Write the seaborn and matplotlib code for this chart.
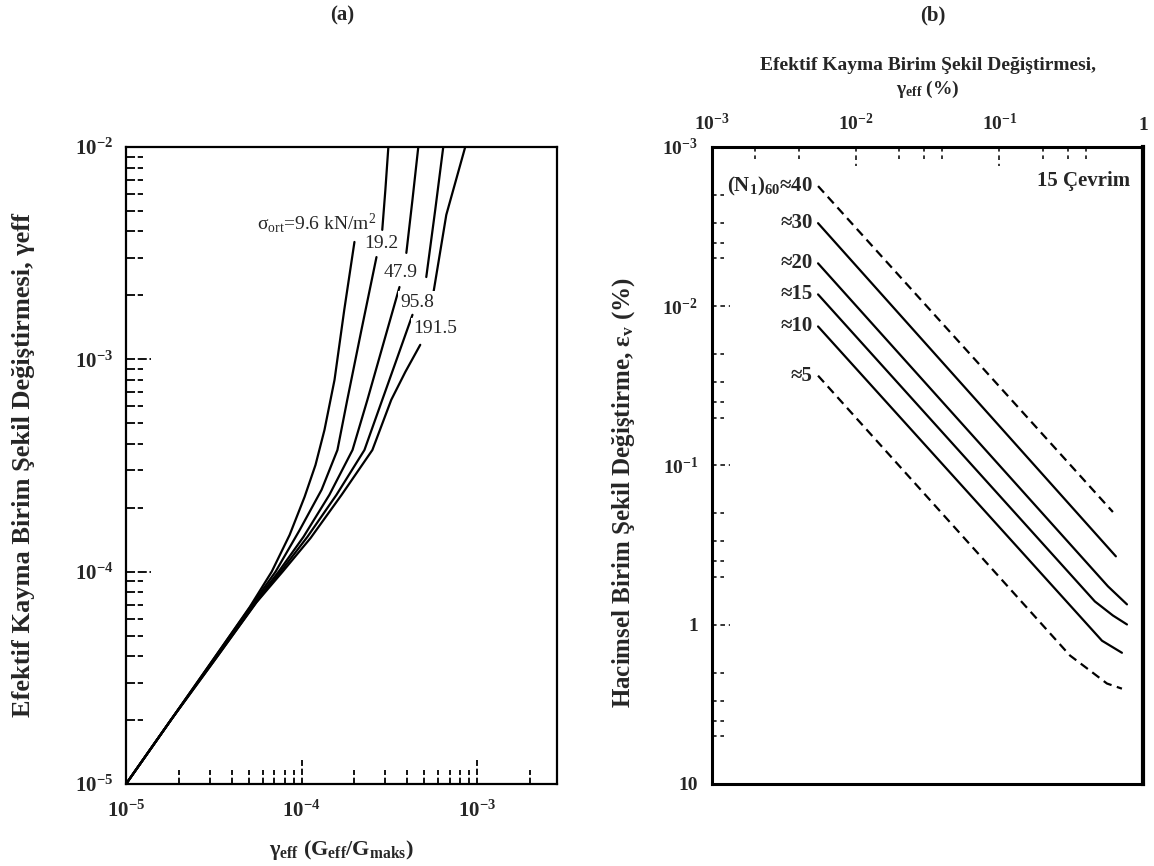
import numpy as np
import pandas as pd
import seaborn as sns
import matplotlib
import matplotlib.pyplot as plt

matplotlib.use('Agg')
sns.set_style("white")

# fuentes tipo Times (despues de set_style)
plt.rcParams['font.family'] = ['Liberation Serif', 'DejaVu Serif']
plt.rcParams['mathtext.fontset'] = 'custom'
plt.rcParams['mathtext.rm'] = 'Liberation Serif'
plt.rcParams['mathtext.it'] = 'Liberation Serif:italic'
plt.rcParams['mathtext.bf'] = 'Liberation Serif:bold'
plt.rcParams['mathtext.default'] = 'bf'

# -------------------------------Datos panel (a)
sigma_labels = ['9.6', '19.2', '47.9', '95.8', '191.5']

x_96 = [1.0e-5, 1.80e-5, 3.21e-5, 5.07e-5, 6.76e-5, 8.55e-5, 1.04e-4, 1.20e-4, 1.35e-4, 1.54e-4, 1.75e-4, 2.00e-4, 2.88e-4, 3.00e-4, 3.12e-4]
y_96 = [1.0e-5, 2.0e-5, 3.96e-5, 6.82e-5, 1.0e-4, 1.49e-4, 2.25e-4, 3.18e-4, 4.65e-4, 8.0e-4, 1.71e-3, 3.57e-3, 4.07e-3, 6.28e-3, 1.0e-2]

x_192 = [1.0e-5, 1.80e-5, 3.21e-5, 5.20e-5, 7.11e-5, 9.75e-5, 1.30e-4, 1.60e-4, 1.82e-4, 2.19e-4, 2.67e-4, 3.95e-4, 4.28e-4, 4.62e-4]
y_192 = [1.0e-5, 2.0e-5, 3.96e-5, 6.97e-5, 1.0e-4, 1.57e-4, 2.43e-4, 3.74e-4, 6.44e-4, 1.37e-3, 3.03e-3, 3.17e-3, 5.64e-3, 1.0e-2]

x_479 = [1.0e-5, 1.80e-5, 3.24e-5, 5.33e-5, 7.40e-5, 1.026e-4, 1.44e-4, 1.95e-4, 2.37e-4, 2.96e-4, 3.61e-4, 5.13e-4, 5.77e-4, 6.41e-4]
y_479 = [1.0e-5, 2.0e-5, 3.96e-5, 7.05e-5, 1.0e-4, 1.46e-4, 2.30e-4, 3.74e-4, 6.44e-4, 1.23e-3, 2.19e-3, 2.44e-3, 5.06e-3, 1.0e-2]

x_958 = [1.0e-5, 1.80e-5, 3.29e-5, 5.48e-5, 7.60e-5, 1.08e-4, 1.58e-4, 2.28e-4, 2.88e-4, 3.51e-4, 4.28e-4, 5.55e-4, 6.67e-4, 8.55e-4]
y_958 = [1.0e-5, 2.0e-5, 3.96e-5, 7.13e-5, 1.0e-4, 1.46e-4, 2.30e-4, 3.74e-4, 6.44e-4, 1.02e-3, 1.62e-3, 1.91e-3, 4.79e-3, 1.0e-2]

x_1915 = [1.0e-5, 1.80e-5, 3.29e-5, 5.55e-5, 7.80e-5, 1.125e-4, 1.69e-4, 2.53e-4, 3.24e-4, 3.90e-4, 4.74e-4]
y_1915 = [1.0e-5, 2.0e-5, 3.96e-5, 7.19e-5, 1.0e-4, 1.44e-4, 2.30e-4, 3.74e-4, 6.44e-4, 8.73e-4, 1.17e-3]

# indice donde empieza el tramo superior de cada curva (la etiqueta corta la linea)
split_a = [12, 11, 11, 11, 11]

# posicion de las etiquetas de cada curva (x, y)
sigma_text_x = [2.67e-4, 2.85e-4, 3.65e-4, 4.56e-4, 5.77e-4]
sigma_text_y = [4.38e-3, 3.50e-3, 2.55e-3, 1.86e-3, 1.39e-3]

# -------------------------------Datos panel (b)
n_labels = ['(N$_1$)$_{60}$≈40', '≈30', '≈20', '≈15', '≈10', '≈5']
n_kind = ['dashed', 'solid', 'solid', 'solid', 'solid', 'dashed']

x_n40 = [5.47e-3, 0.617]
y_n40 = [1.76e-3, 0.196]
x_n30 = [5.47e-3, 0.647]
y_n30 = [3.01e-3, 0.372]
x_n20 = [5.47e-3, 0.570, 0.773]
y_n20 = [5.38e-3, 0.574, 0.745]
x_n15 = [5.47e-3, 0.462, 0.617, 0.773]
y_n15 = [8.43e-3, 0.714, 0.875, 0.996]
x_n10 = [5.47e-3, 0.518, 0.713]
y_n10 = [1.34e-2, 1.26, 1.50]
x_n5 = [5.47e-3, 0.310, 0.427, 0.561, 0.713]
y_n5 = [2.73e-2, 1.56, 1.94, 2.34, 2.52]

n_text_x = 5.0e-3

# marcas de los ejes
ticks_a_major = [1e-5, 1e-4, 1e-3]
ticks_a_minor = [m * 10.0 ** e for e in (-5, -4, -3) for m in range(2, 10)]
ticks_ax_minor = [t for t in ticks_a_minor if t <= 2e-3]
ticks_bx_major = [1e-3, 1e-2, 1e-1, 1]
ticks_bx_minor = [2e-3, 4e-3, 2e-2, 3e-2, 4e-2, 2e-1, 3e-1, 4e-1]
ticks_by_major = [1e-3, 1e-2, 1e-1, 1, 10]
ticks_by_minor = [m * 10.0 ** e for e in (-3, -2, -1, 0) for m in (2, 3, 4, 5)]
labels_a = ['10$^{-5}$', '10$^{-4}$', '10$^{-3}$', '10$^{-2}$']
labels_bx = ['10$^{-3}$', '10$^{-2}$', '10$^{-1}$', '1']
labels_by = ['10$^{-3}$', '10$^{-2}$', '10$^{-1}$', '1', '10']

# tablas largas para seaborn (cada curva en dos tramos)
partes = []
for xs, ys, lab, k in zip([x_96, x_192, x_479, x_958, x_1915],
                          [y_96, y_192, y_479, y_958, y_1915], sigma_labels, split_a):
    partes.append(pd.DataFrame({'x': xs[:k], 'y': ys[:k], 'curva': lab, 'tramo': lab + '-alt'}))
    if k < len(xs):
        partes.append(pd.DataFrame({'x': xs[k:], 'y': ys[k:], 'curva': lab, 'tramo': lab + '-ust'}))
df_a = pd.concat(partes)

df_b = pd.concat([
    pd.DataFrame({'x': xs, 'y': ys, 'N': lab})
    for xs, ys, lab in zip([x_n40, x_n30, x_n20, x_n15, x_n10, x_n5],
                           [y_n40, y_n30, y_n20, y_n15, y_n10, y_n5], n_labels)
])


def dashed_ticks(ax, positions, side, length, dash, lw):
    # marcas interiores punteadas como en la figura escaneada
    for p in positions:
        if side == 'bottom':
            ax.plot([p, p], [0, length], transform=ax.get_xaxis_transform(), color='black', lw=lw, dashes=dash, clip_on=False)
        elif side == 'top':
            ax.plot([p, p], [1, 1 - length], transform=ax.get_xaxis_transform(), color='black', lw=lw, dashes=dash, clip_on=False)
        else:
            ax.plot([0, length], [p, p], transform=ax.get_yaxis_transform(), color='black', lw=lw, dashes=dash, clip_on=False)


fig = plt.figure(figsize=(11.54, 8.66), dpi=100)
ax_a = fig.add_axes([0.1092, 0.0947, 0.3735, 0.7356])
ax_b = fig.add_axes([0.6170, 0.0947, 0.3735, 0.7356])

# -------------------------------Panel (a)
sns.lineplot(data=df_a, x='x', y='y', hue='curva', units='tramo', palette=['black'] * 5, estimator=None,
             sort=False, legend=False, linewidth=1.6, ax=ax_a)
ax_a.set_xscale('log')
ax_a.set_yscale('log')

for i, lab in enumerate(sigma_labels):
    txt = lab if i > 0 else r'$\mathrm{\sigma_{ort}}$=9.6 kN/m$\mathrm{^2}$'
    ax_a.text(sigma_text_x[i], sigma_text_y[i], txt, fontsize=14, ha='right' if i == 0 else 'center',
              va='center', zorder=5, bbox=dict(facecolor='white', edgecolor='none', pad=1.5))

dashed_ticks(ax_a, ticks_ax_minor, 'bottom', 14 / 637, (3.5, 1.5), 1.3)
dashed_ticks(ax_a, [1e-4, 1e-3], 'bottom', 24 / 637, (3.5, 1.5), 1.3)
dashed_ticks(ax_a, ticks_a_minor, 'left', 17 / 431, (5, 1.5), 1.3)
dashed_ticks(ax_a, [1e-4, 1e-3], 'left', 25 / 431, (5, 1.5), 1.3)

ax_a.set_xlim(1e-5, 2.85e-3)
ax_a.set_ylim(1e-5, 1e-2)
ax_a.xaxis.set_minor_locator(matplotlib.ticker.NullLocator())
ax_a.yaxis.set_minor_locator(matplotlib.ticker.NullLocator())
ax_a.set_xticks(ticks_a_major, labels_a[:3], fontweight='bold')
ax_a.set_yticks(ticks_a_major + [1e-2], labels_a, fontweight='bold')
ax_a.tick_params(axis='x', length=0, pad=12, labelsize=15)
ax_a.tick_params(axis='y', length=0, pad=9, labelsize=15)
ax_a.set_xlabel('γ$_{eff}$ (G$_{eff}$/G$_{maks}$)', fontsize=16, fontweight='bold', va='center')
ax_a.xaxis.set_label_coords(0.5, -0.104)
ax_a.set_ylabel('Efektif Kayma Birim Şekil Değiştirmesi, γeff', fontsize=19, fontweight='bold', va='center')
ax_a.yaxis.set_label_coords(-0.239, 0.5)
for s in ax_a.spines.values():
    s.set_linewidth(1.6)
    s.set_color('black')

# -------------------------------Panel (b)
sns.lineplot(data=df_b, x='x', y='y', hue='N', style='N', palette=['black'] * 6,
             dashes={lab: ((4, 2.5) if k == 'dashed' else '') for lab, k in zip(n_labels, n_kind)},
             estimator=None, sort=False, legend=False, linewidth=1.6, ax=ax_b)
ax_b.set_xscale('log')
ax_b.set_yscale('log')

for lab, ys in zip(n_labels, [y_n40, y_n30, y_n20, y_n15, y_n10, y_n5]):
    ax_b.text(n_text_x, ys[0], lab, fontsize=15, fontweight='bold', ha='right', va='center')
ax_b.text(0.81, 1.64e-3, '15 Çevrim', fontsize=15, fontweight='bold', ha='right', va='center')

dashed_ticks(ax_b, ticks_bx_minor, 'top', 12 / 637, (3, 2.5), 1.1)
dashed_ticks(ax_b, [1e-2, 1e-1], 'top', 19 / 637, (3, 2.5), 1.1)
dashed_ticks(ax_b, ticks_by_minor, 'left', 12 / 431, (3, 2.5), 1.1)
dashed_ticks(ax_b, [1e-2, 1e-1, 1], 'left', 18 / 431, (3, 2.5), 1.1)

ax_b.set_xlim(1e-3, 1)
ax_b.set_ylim(10, 1e-3)
ax_b.xaxis.set_minor_locator(matplotlib.ticker.NullLocator())
ax_b.yaxis.set_minor_locator(matplotlib.ticker.NullLocator())
ax_b.xaxis.tick_top()
ax_b.xaxis.set_label_position('top')
ax_b.set_xticks(ticks_bx_major, labels_bx, fontweight='bold')
ax_b.set_yticks(ticks_by_major, labels_by, fontweight='bold')
ax_b.tick_params(axis='x', length=0, pad=9, labelsize=14)
ax_b.tick_params(axis='y', length=0, pad=10, labelsize=14)
ax_b.set_xlabel('Efektif Kayma Birim Şekil Değiştirmesi,\nγ$_{eff}$ (%)', fontsize=14, fontweight='bold',
                va='center', linespacing=1.3)
ax_b.xaxis.set_label_coords(0.5, 1.107)
ax_b.set_ylabel('Hacimsel Birim Şekil Değiştirme, ε$_v$ (%)', fontsize=18, fontweight='bold', va='center')
ax_b.yaxis.set_label_coords(-0.205, 0.457)
for s in ax_b.spines.values():
    s.set_linewidth(2.2)
    s.set_color('black')
ax_b.spines['right'].set_linewidth(3)

fig.text(342 / 1154, 1 - 15 / 866, '(a)', fontsize=15, fontweight='bold', ha='center', va='center')
fig.text(933 / 1154, 1 - 15 / 866, '(b)', fontsize=15, fontweight='bold', ha='center', va='center')

plt.savefig('out.png', dpi=100)
